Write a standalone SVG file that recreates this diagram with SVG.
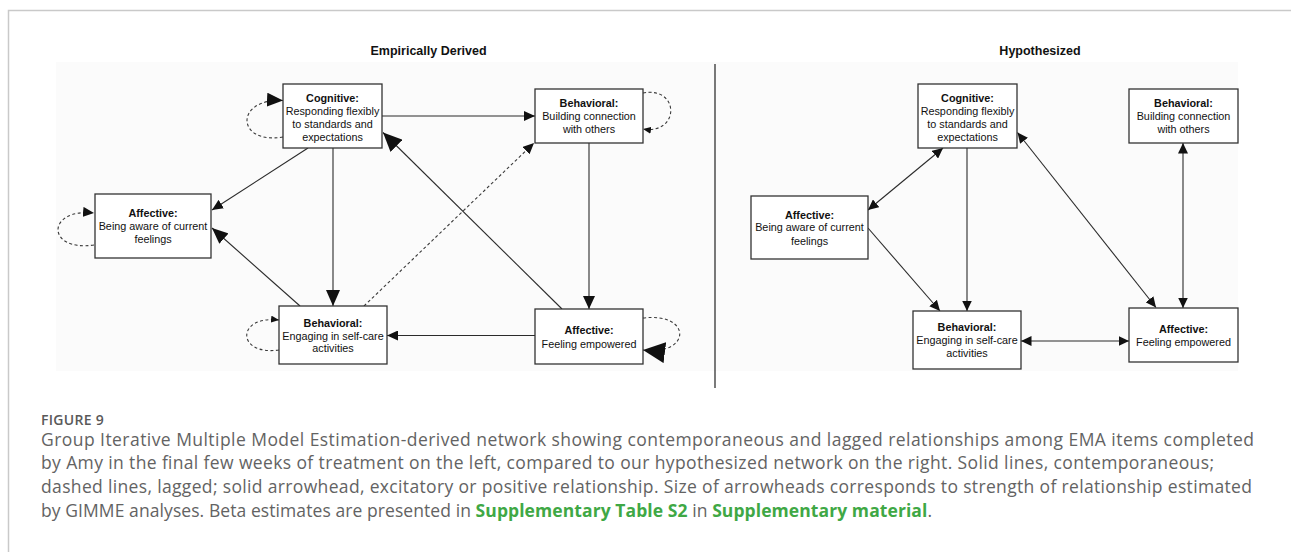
<svg xmlns="http://www.w3.org/2000/svg" width="1291" height="552" viewBox="0 0 1291 552">
  <style>
    .box { fill: #ffffff; stroke: #333333; stroke-width: 1.3; }
    .lbl { font-family: "Liberation Sans", Arial, Helvetica, sans-serif; font-size: 10.8px; fill: #111111; text-anchor: middle; }
    .lbl .h { font-weight: bold; }
    .title { font-family: "Liberation Sans", Arial, Helvetica, sans-serif; font-size: 12.5px; font-weight: bold; fill: #111111; text-anchor: middle; }
    .edge { fill: none; stroke: #2b2b2b; stroke-width: 1.1; }
    .lag { fill: none; stroke: #3a3a3a; stroke-width: 1.1; stroke-dasharray: 3 2.5; }
    .cap { font-family: "Open Sans", "Noto Sans", sans-serif; font-size: 17.5px; fill: #636363; }
    .fig { font-family: "Open Sans", "Noto Sans", sans-serif; font-size: 14px; font-weight: 600; fill: #595959; letter-spacing: 0.3px; }
    .link { fill: #3fa845; font-weight: 700; }
  </style>
  <defs>
    <marker id="aS" viewBox="0 0 10 10" refX="10" refY="5" markerUnits="userSpaceOnUse" markerWidth="8" markerHeight="7" preserveAspectRatio="none" orient="auto-start-reverse">
      <path d="M0,0 L10,5 L0,10 Z" fill="#111"/>
    </marker>
    <marker id="aM" viewBox="0 0 10 10" refX="10" refY="5" markerUnits="userSpaceOnUse" markerWidth="11" markerHeight="10" preserveAspectRatio="none" orient="auto-start-reverse">
      <path d="M0,0 L10,5 L0,10 Z" fill="#111"/>
    </marker>
    <marker id="aM2" viewBox="0 0 10 10" refX="10" refY="5" markerUnits="userSpaceOnUse" markerWidth="13" markerHeight="12" preserveAspectRatio="none" orient="auto-start-reverse">
      <path d="M0,0 L10,5 L0,10 Z" fill="#111"/>
    </marker>
    <marker id="aL" viewBox="0 0 10 10" refX="10" refY="5" markerUnits="userSpaceOnUse" markerWidth="16" markerHeight="14" preserveAspectRatio="none" orient="auto-start-reverse">
      <path d="M0,0 L10,5 L0,10 Z" fill="#111"/>
    </marker>
    <marker id="aL2" viewBox="0 0 10 10" refX="10" refY="5" markerUnits="userSpaceOnUse" markerWidth="19" markerHeight="17" preserveAspectRatio="none" orient="auto-start-reverse">
      <path d="M0,0 L10,5 L0,10 Z" fill="#111"/>
    </marker>
    <marker id="aXL" viewBox="0 0 10 10" refX="10" refY="5" markerUnits="userSpaceOnUse" markerWidth="22" markerHeight="21" preserveAspectRatio="none" orient="auto-start-reverse">
      <path d="M0,0 L10,5 L0,10 Z" fill="#111"/>
    </marker>
    <marker id="aR" viewBox="0 0 10 10" refX="10" refY="5" markerUnits="userSpaceOnUse" markerWidth="10.5" markerHeight="10" preserveAspectRatio="none" orient="auto-start-reverse">
      <path d="M0,0 L10,5 L0,10 Z" fill="#111"/>
    </marker>
  </defs>

  <!-- page -->
  <rect x="0" y="0" width="1291" height="552" fill="#ffffff"/>
  <path d="M8.5,552 V10.5 H1291" fill="none" stroke="#c9c9c9" stroke-width="1.5"/>
  <rect x="56" y="62" width="1182" height="309" fill="#fbfbfb"/>

  <!-- panel titles and divider -->
  <text class="title" x="428.5" y="55">Empirically Derived</text>
  <text class="title" x="1040" y="55">Hypothesized</text>
  <line x1="715" y1="64" x2="715" y2="388" stroke="#222" stroke-width="1.2"/>

  <!-- connectors -->
  <g id="connectors">
    <!-- empirically derived: contemporaneous -->
    <line class="edge" x1="382" y1="116" x2="535" y2="116" marker-end="url(#aM)"/>
    <line class="edge" x1="308" y1="148" x2="212" y2="210" marker-end="url(#aM)"/>
    <line class="edge" x1="333" y1="148" x2="333" y2="306" marker-end="url(#aL)"/>
    <line class="edge" x1="300" y1="306" x2="212" y2="228" marker-end="url(#aL)"/>
    <line class="edge" x1="562" y1="309" x2="383" y2="132.5" marker-end="url(#aL2)"/>
    <line class="edge" x1="589" y1="143" x2="589" y2="309" marker-end="url(#aM2)"/>
    <line class="edge" x1="535" y1="335.5" x2="387" y2="335.5" marker-end="url(#aM)"/>
    <!-- empirically derived: lagged -->
    <line class="lag" stroke-dasharray="2.5 2.5" x1="364" y1="306" x2="534" y2="143" marker-end="url(#aM)"/>
    <path class="lag" d="M283,137 C236,145 234,98 283,100.5" marker-end="url(#aL)"/>
    <path class="lag" d="M94,245 C46,252 46,208 94,213" marker-end="url(#aM)"/>
    <path class="lag" d="M279,350 C236,356 236,315 279,320" marker-end="url(#aS)"/>
    <path class="lag" d="M643,93 C680,86 680,135 643,129" marker-end="url(#aS)"/>
    <path class="lag" d="M643,318 C692,312 692,356 643,350" marker-end="url(#aXL)"/>

    <!-- hypothesized -->
    <line class="edge" x1="868" y1="210" x2="943" y2="148" marker-start="url(#aR)" marker-end="url(#aR)"/>
    <line class="edge" x1="967" y1="148" x2="967" y2="311" marker-end="url(#aR)"/>
    <line class="edge" x1="868" y1="228" x2="940" y2="311" marker-end="url(#aR)"/>
    <line class="edge" x1="1017.5" y1="132.5" x2="1156" y2="307.5" marker-start="url(#aR)" marker-end="url(#aR)"/>
    <line class="edge" x1="1183" y1="143" x2="1183" y2="308" marker-start="url(#aR)" marker-end="url(#aR)"/>
    <line class="edge" x1="1021" y1="341" x2="1129" y2="341" marker-start="url(#aR)" marker-end="url(#aR)"/>
  </g>

  <!-- empirically derived nodes -->
  <g id="emp-cognitive">
    <rect class="box" x="283" y="84" width="99" height="64"/>
    <text class="lbl" x="332.5" y="102"><tspan class="h">Cognitive:</tspan><tspan x="332.5" dy="13">Responding flexibly</tspan><tspan x="332.5" dy="13">to standards and</tspan><tspan x="332.5" dy="12.5">expectations</tspan></text>
  </g>
  <g id="emp-connection">
    <rect class="box" x="535" y="89" width="108" height="54"/>
    <text class="lbl" x="589" y="107"><tspan class="h">Behavioral:</tspan><tspan x="589" dy="13.3">Building connection</tspan><tspan x="589" dy="12.7">with others</tspan></text>
  </g>
  <g id="emp-aware">
    <rect class="box" x="95" y="194" width="116" height="64"/>
    <text class="lbl" x="153" y="217"><tspan class="h">Affective:</tspan><tspan x="153" dy="13">Being aware of current</tspan><tspan x="153" dy="13">feelings</tspan></text>
  </g>
  <g id="emp-selfcare">
    <rect class="box" x="279" y="306" width="108" height="58"/>
    <text class="lbl" x="333" y="326.5"><tspan class="h">Behavioral:</tspan><tspan x="333" dy="13">Engaging in self-care</tspan><tspan x="333" dy="12.7">activities</tspan></text>
  </g>
  <g id="emp-empowered">
    <rect class="box" x="535" y="309" width="108" height="55"/>
    <text class="lbl" x="589" y="334"><tspan class="h">Affective:</tspan><tspan x="589" dy="13.7">Feeling empowered</tspan></text>
  </g>

  <!-- hypothesized nodes -->
  <g id="hyp-cognitive">
    <rect class="box" x="918" y="84" width="99" height="64"/>
    <text class="lbl" x="967.5" y="102"><tspan class="h">Cognitive:</tspan><tspan x="967.5" dy="13">Responding flexibly</tspan><tspan x="967.5" dy="13">to standards and</tspan><tspan x="967.5" dy="12.5">expectations</tspan></text>
  </g>
  <g id="hyp-connection">
    <rect class="box" x="1129" y="89" width="109" height="54"/>
    <text class="lbl" x="1183.5" y="107"><tspan class="h">Behavioral:</tspan><tspan x="1183.5" dy="13.3">Building connection</tspan><tspan x="1183.5" dy="12.7">with others</tspan></text>
  </g>
  <g id="hyp-aware">
    <rect class="box" x="751" y="196" width="117" height="63"/>
    <text class="lbl" x="809.5" y="218.5"><tspan class="h">Affective:</tspan><tspan x="809.5" dy="12.7">Being aware of current</tspan><tspan x="809.5" dy="13.3">feelings</tspan></text>
  </g>
  <g id="hyp-selfcare">
    <rect class="box" x="913" y="311" width="108" height="58"/>
    <text class="lbl" x="967" y="331"><tspan class="h">Behavioral:</tspan><tspan x="967" dy="12.7">Engaging in self-care</tspan><tspan x="967" dy="13">activities</tspan></text>
  </g>
  <g id="hyp-empowered">
    <rect class="box" x="1129" y="308" width="109" height="54"/>
    <text class="lbl" x="1183.5" y="332.5"><tspan class="h">Affective:</tspan><tspan x="1183.5" dy="13.6">Feeling empowered</tspan></text>
  </g>

  <!-- caption -->
  <text class="fig" x="41" y="425">FIGURE 9</text>
  <text class="cap" x="41" y="445.5" textLength="1213" lengthAdjust="spacing">Group Iterative Multiple Model Estimation-derived network showing contemporaneous and lagged relationships among EMA items completed</text>
  <text class="cap" x="41" y="469.2" textLength="1173" lengthAdjust="spacing">by Amy in the final few weeks of treatment on the left, compared to our hypothesized network on the right. Solid lines, contemporaneous;</text>
  <text class="cap" x="41" y="492.9" textLength="1211" lengthAdjust="spacing">dashed lines, lagged; solid arrowhead, excitatory or positive relationship. Size of arrowheads corresponds to strength of relationship estimated</text>
  <text class="cap" x="41" y="516.6" textLength="891" lengthAdjust="spacing">by GIMME analyses. Beta estimates are presented in <tspan class="link">Supplementary Table S2</tspan> in <tspan class="link">Supplementary material</tspan>.</text>
</svg>
